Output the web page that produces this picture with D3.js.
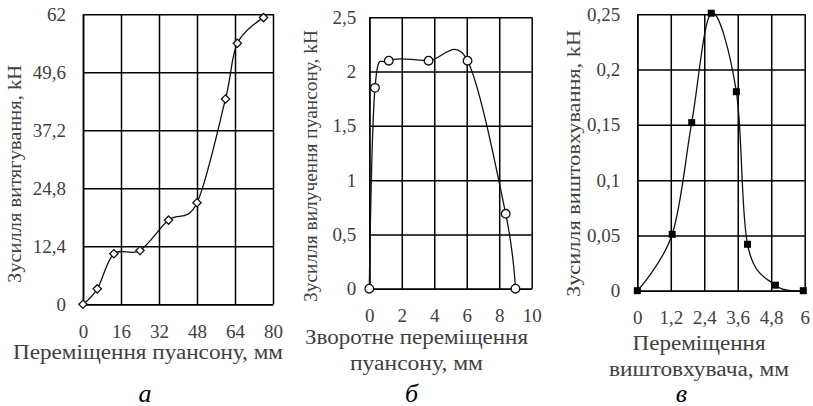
<!DOCTYPE html>
<html>
<head>
<meta charset="utf-8">
<script src="https://cdn.jsdelivr.net/npm/d3@7/dist/d3.min.js"></script>
</head>
<body style="margin:0; background:#fff">
<script>
// панель а
const aX = [0, 6, 13, 24, 36, 48, 60, 65, 76];
const aY = [0, 3.3, 10.8, 11.5, 18, 21.7, 43.9, 55.8, 61.3];
const aXTicks = [0, 16, 32, 48, 64, 80];
const aYTicks = [0, 12.4, 24.8, 37.2, 49.6, 62];

// панель б
const bX = [0, 0.35, 1.2, 3.65, 6.05, 8.4, 9.0];
const bY = [0, 1.85, 2.1, 2.1, 2.1, 0.69, 0];
const bXTicks = [0, 2, 4, 6, 8, 10];
const bYTicks = [0, 0.5, 1, 1.5, 2, 2.5];

// панель в
const cX = [0, 1.25, 1.95, 2.65, 3.55, 3.95, 4.95, 5.95];
const cY = [0, 0.051, 0.152, 0.251, 0.18, 0.042, 0.005, 0];
const cXTicks = [0, 1.2, 2.4, 3.6, 4.8, 6];
const cYTicks = [0, 0.05, 0.1, 0.15, 0.2, 0.25];

const width = 813;
const height = 406;
const textColor = "#404040";
const font = '"Liberation Serif"';

const comma = d => String(d).replace(".", ",");

const svg = d3.select("body")
	.append("svg")
	.attr("width", width)
	.attr("height", height)
	.style("font-family", font);

const panels = [
	{
		xs: aX, ys: aY, xTicks: aXTicks, yTicks: aYTicks,
		left: 83, right: 273, top: 14.3, bottom: 304.3,
		yPad: 17, xPad: 20,
		yTitle: "Зусилля витягування, kH", yTitleX: 21, yTitleY: 174, yTitleW: 218,
		xTitle: ["Переміщення пуансону, мм"], xTitleW: [270],
		xTitleX: 148, xTitleY: 358.5, xTitleGap: 26,
		label: "а", labelX: 145,
		marker: "diamond"
	},
	{
		xs: bX, ys: bY, xTicks: bXTicks, yTicks: bYTicks,
		left: 369.3, right: 531.7, top: 17.3, bottom: 288.7,
		yPad: 13, xPad: 20,
		yTitle: "Зусилля вилучення пуансону, kH", yTitleX: 317, yTitleY: 166, yTitleW: 272,
		xTitle: ["Зворотне переміщення", "пуансону, мм"], xTitleW: [223, 133],
		xTitleX: 416.5, xTitleY: 343.5, xTitleGap: 26,
		label: "б", labelX: 411.5,
		marker: "circle"
	},
	{
		xs: cX, ys: cY, xTicks: cXTicks, yTicks: cYTicks,
		left: 637.3, right: 804.7, top: 14.3, bottom: 290.7,
		yPad: 17, xPad: 20,
		yTitle: "Зусилля виштовхування, kH", yTitleX: 580, yTitleY: 163.5, yTitleW: 267,
		xTitle: ["Переміщення", "виштовхувача, мм"], xTitleW: [133, 180],
		xTitleX: 699, xTitleY: 349.5, xTitleGap: 26,
		label: "в", labelX: 681.5,
		marker: "square"
	}
];

panels.forEach(drawPanel);

function drawPanel(p) {
	const x = d3.scaleLinear()
		.domain(d3.extent(p.xTicks))
		.range([p.left, p.right]);
	const y = d3.scaleLinear()
		.domain(d3.extent(p.yTicks))
		.range([p.bottom, p.top]);

	const h = p.bottom - p.top;
	const w = p.right - p.left;

	const g = svg.append("g");

	// сітка + підписи осі X
	const gx = g.append("g")
		.attr("transform", `translate(0,${p.bottom})`)
		.call(d3.axisBottom(x)
			.tickValues(p.xTicks)
			.tickFormat(comma)
			.tickSize(-h)
			.tickSizeOuter(0)
			.tickPadding(p.xPad));

	// сітка + підписи осі Y
	const gy = g.append("g")
		.attr("transform", `translate(${p.left},0)`)
		.call(d3.axisLeft(y)
			.tickValues(p.yTicks)
			.tickFormat(comma)
			.tickSize(-w)
			.tickSizeOuter(0)
			.tickPadding(p.yPad));

	[gx, gy].forEach(ax => {
		ax.attr("font-family", null).attr("font-size", null);
		ax.selectAll("line").attr("stroke", "#000").attr("stroke-width", 1.5);
		ax.select(".domain").attr("stroke", "#000").attr("stroke-width", 1.5);
		ax.selectAll("text")
			.attr("fill", textColor)
			.style("font-family", font)
			.style("font-size", "19px");
	});

	const line = d3.line()
		.x((d, i) => x(p.xs[i]))
		.y((d, i) => y(p.ys[i]))
		.curve(d3.curveCardinal.tension(0));

	g.append("path")
		.datum(p.ys)
		.attr("fill", "none")
		.attr("stroke", "#111")
		.attr("stroke-width", 1.3)
		.attr("d", line);

	const pts = g.append("g")
		.selectAll("path")
		.data(p.ys)
		.join("path")
		.attr("transform", (d, i) => `translate(${x(p.xs[i])},${y(d)})`);

	if (p.marker === "diamond") {
		pts.attr("d", d3.symbol(d3.symbolDiamond2, 44)())
			.attr("fill", "#fff").attr("stroke", "#111").attr("stroke-width", 1.3);
	} else if (p.marker === "circle") {
		pts.attr("d", d3.symbol(d3.symbolCircle, 58)())
			.attr("fill", "#fff").attr("stroke", "#111").attr("stroke-width", 1.3);
	} else {
		pts.attr("d", d3.symbol(d3.symbolSquare, 49)())
			.attr("fill", "#000");
	}

	// назва осі Y
	g.append("text")
		.attr("transform", `translate(${p.yTitleX},${p.yTitleY}) rotate(-90)`)
		.attr("text-anchor", "middle")
		.attr("fill", textColor)
		.attr("textLength", p.yTitleW)
		.attr("lengthAdjust", "spacingAndGlyphs")
		.style("font-family", font)
		.style("font-size", "19px")
		.text(p.yTitle);

	// назва осі X
	g.append("text")
		.attr("text-anchor", "middle")
		.attr("fill", textColor)
		.style("font-family", font)
		.style("font-size", "20px")
		.selectAll("tspan")
		.data(p.xTitle)
		.join("tspan")
		.attr("x", p.xTitleX)
		.attr("y", (d, i) => p.xTitleY + i * p.xTitleGap)
		.attr("textLength", (d, i) => p.xTitleW[i])
		.attr("lengthAdjust", "spacingAndGlyphs")
		.text(d => d);

	g.append("text")
		.attr("x", p.labelX)
		.attr("y", 401.5)
		.attr("text-anchor", "middle")
		.attr("fill", "#000")
		.style("font-family", font)
		.style("font-size", "26px")
		.style("font-style", "italic")
		.text(p.label);
}
</script>
</body>
</html>
